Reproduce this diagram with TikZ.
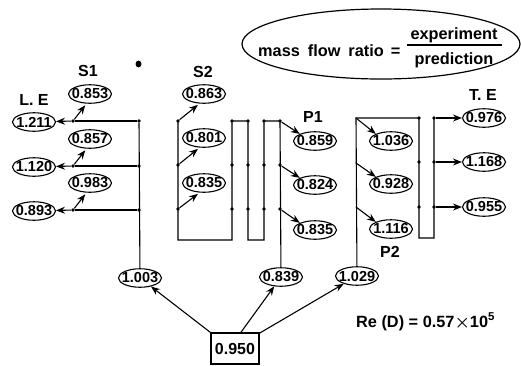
\documentclass[tikz,border=0pt]{standalone}
\usepackage{fontspec}
\setmainfont{Liberation Sans}
\usetikzlibrary{arrows.meta,shapes.geometric}
\tikzset{
  flowline/.style={line width=1.1pt},
  flowarrow/.style={line width=1.1pt,-{Stealth[length=9pt,width=7pt,inset=3pt]}},
  joint/.style={circle,fill=black,inner sep=0pt,minimum size=3.8pt},
  smalljoint/.style={circle,fill=black,inner sep=0pt,minimum size=1.2pt},
  ratiooval/.style={ellipse,draw,line width=1.1pt,inner sep=0pt,minimum width=43pt,minimum height=18.5pt},
  ratiotext/.style={inner sep=0pt,font=\bfseries\fontsize{14.5}{14.5}\selectfont},
  rowlabel/.style={font=\bfseries\fontsize{16}{16}\selectfont,inner sep=0pt},
  legendtext/.style={font=\bfseries\fontsize{16.3}{16.3}\selectfont,inner sep=0pt}
}
\newcommand{\ratiobox}[3]{\node[ratiooval] (#1) at #2 {}; \node[ratiotext] (#1t) at #2 {#3};}
\newcommand{\jointat}[2]{\node[joint] (#1) at #2 {};}
\begin{document}
\begin{tikzpicture}[x=1pt,y=-1pt]
\useasboundingbox (0,0) rectangle (521,365);
% legend
\node[ellipse,draw,line width=1.2pt,minimum width=278pt,minimum height=70pt,inner sep=0pt] (legend) at (381,44) {};
\node[legendtext,anchor=base west] (lhs) at (258,56) {mass\hspace{8pt}flow\hspace{8pt}ratio\hspace{7pt}=};
\node[legendtext] (num) at (454,35) {experiment};
\node[legendtext] (den) at (454,60) {prediction};
\coordinate (barl) at (407,45);
\coordinate (barr) at (502,45);
\draw[flowline] (barl) -- (barr);
\fill (138.5,64) ellipse (3pt and 3.4pt);
% labels
\node[rowlabel] (le) at (34,100) {L. E};
\node[rowlabel] (s1) at (88,71) {S1};
\node[rowlabel] (s2) at (203,72) {S2};
\node[rowlabel] (p1) at (313,117) {P1};
\node[rowlabel] (p2) at (390,252) {P2};
\node[rowlabel] (te) at (483,95) {T. E};
\node[legendtext,anchor=base west] (re) at (356,327) {Re (D) = 0.57{\fontsize{18}{18}\selectfont\boldmath$\times$}10$^{\mathbf{5}}$};
% values
\ratiobox{le1}{(34,122)}{1.211} \ratiobox{le2}{(34,167)}{1.120} \ratiobox{le3}{(34,211)}{0.893}
\ratiobox{sa1}{(90,94)}{0.853} \ratiobox{sa2}{(90,139)}{0.857} \ratiobox{sa3}{(90,183)}{0.983}
\ratiobox{sb1}{(204,94)}{0.863} \ratiobox{sb2}{(204,138)}{0.801} \ratiobox{sb3}{(204,183)}{0.835}
\ratiobox{pa1}{(315,141)}{0.859} \ratiobox{pa2}{(315,185)}{0.824} \ratiobox{pa3}{(315,230)}{0.835}
\ratiobox{pb1}{(391,141)}{1.036} \ratiobox{pb2}{(391,184)}{0.928} \ratiobox{pb3}{(391,229)}{1.116}
\ratiobox{te1}{(484,118)}{0.976} \ratiobox{te2}{(484,162)}{1.168} \ratiobox{te3}{(484,207)}{0.955}
\ratiobox{in1}{(140,278)}{1.003} \ratiobox{in2}{(281,277)}{0.839} \ratiobox{in3}{(357,276)}{1.029}
\node[draw,line width=1.2pt,minimum width=48pt,minimum height=31pt,inner sep=0pt,font=\bfseries\fontsize{16}{16}\selectfont] (inlet) at (235,348.5) {0.950};
% joints
\foreach \r/\y in {1/121,2/166,3/210}{
  \jointat{ta\r}{(139,\y)}
  \jointat{tb\r}{(73,\y)}
  \draw[flowline] (ta\r) -- (tb\r);
  \draw[flowarrow] (tb\r) -- (le\r);
  \draw[flowarrow,shorten >=2pt] (tb\r) -- (sa\r.-110);
}
\foreach \r/\y in {1/121,2/165,3/209}{
  \jointat{ua\r}{(178,\y)} \jointat{ub\r}{(232,\y)} \jointat{uc\r}{(248,\y)}
  \jointat{ud\r}{(264,\y)} \jointat{ue\r}{(280,\y)}
  \draw[flowarrow,shorten >=2pt] (ua\r) -- (sb\r.-115);
  \draw[flowarrow] (ue\r) -- (pa\r.155);
}
\foreach \r/\y in {1/118,2/163,3/207}{
  \node[smalljoint] (va\r) at (356,\y) {};
  \draw[flowarrow] (va\r) -- (pb\r.155);
}
\foreach \r/\y in {1/118,2/162,3/207}{
  \jointat{vb\r}{(419,\y)} \jointat{vc\r}{(434,\y)}
  \draw[flowarrow] (vc\r) -- (te\r);
}
% passages
\coordinate (ubot1) at (178,240); \coordinate (ubot2) at (232,240);
\coordinate (ubot3) at (248,240); \coordinate (ubot4) at (264,240);
\coordinate (vbot1) at (419,238); \coordinate (vbot2) at (434,238);
\draw[flowline] (in1) -- (ta1);
\draw[flowline] (ua1.center) -- (ubot1) -- (ubot2) -- (ub1.center) -- (uc1.center) -- (ubot3) -- (ubot4) -- (ud1.center) -- (ue1.center) -- (in2);
\draw[flowline] (in3) -- (va1.center) -- (vb1.center) -- (vbot1) -- (vbot2) -- (vc1.center);
% inlet arrows
\draw[flowarrow] (inlet.north west) -- (in1);
\draw[flowarrow] (inlet.70) -- (in2);
\draw[flowarrow] (inlet.32) -- (in3);
\end{tikzpicture}
\end{document}
